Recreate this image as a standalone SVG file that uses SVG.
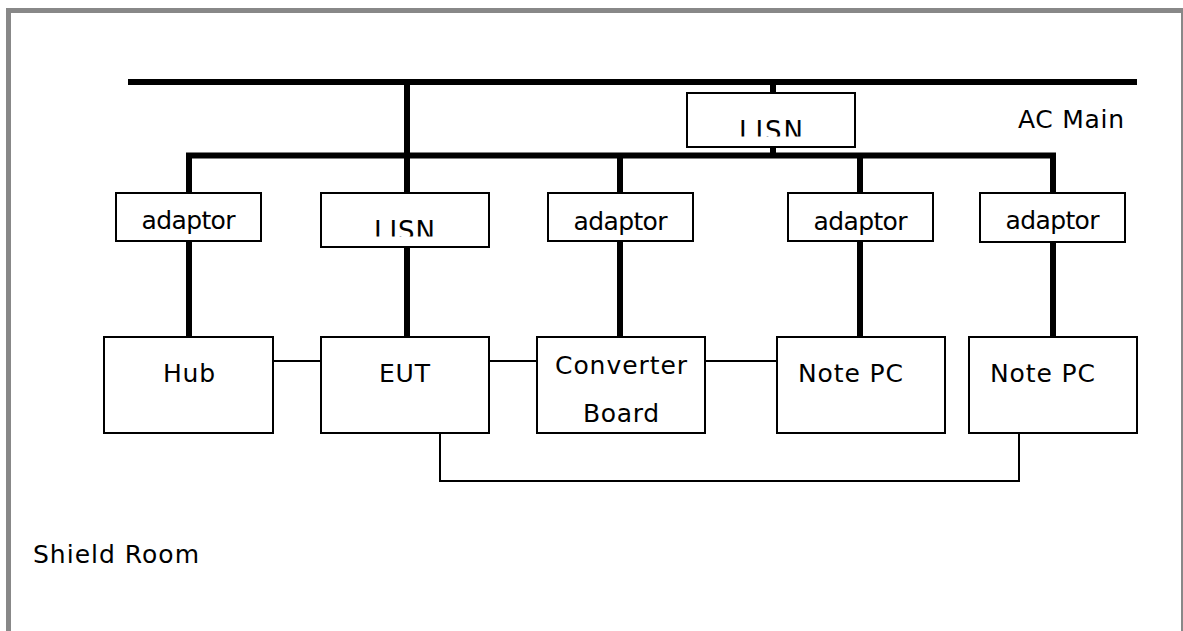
<svg xmlns="http://www.w3.org/2000/svg" width="1183" height="631" viewBox="0 0 1183 631">
  <style>
    .box { fill: #fff; stroke: #000; stroke-width: 2; }
    .lbl { font-family: "DejaVu Sans", "Liberation Sans", sans-serif; font-size: 25px; fill: #000; }
    .lisn { font-size: 26px; }
    .power { stroke: #000; stroke-width: 6; fill: none; stroke-linecap: butt; }
    .signal { stroke: #000; stroke-width: 2; fill: none; }
  </style>
  <defs>
    <clipPath id="clip-lisn-main"><rect x="687" y="93" width="168" height="43.5"/></clipPath>
    <clipPath id="clip-lisn-eut"><rect x="321" y="193" width="168" height="43.5"/></clipPath>
  </defs>

  <rect width="1183" height="631" fill="#fff"/>
  <!-- shield room enclosure -->
  <rect id="shield-room" x="8.5" y="10.5" width="1175" height="700" fill="none" stroke="#888" stroke-width="5"/>

  <g id="connectors">
    <!-- AC mains bus -->
    <line class="power" x1="128" y1="82" x2="1137" y2="82"/>
    <!-- mains to EUT LISN -->
    <line class="power" x1="407" y1="82" x2="407" y2="193"/>
    <!-- mains to support LISN -->
    <line class="power" x1="773" y1="82" x2="773" y2="93"/>
    <line class="power" x1="773" y1="147" x2="773" y2="156"/>
    <!-- support equipment power bus -->
    <polyline class="power" points="189,193 189,155.5 1053,155.5 1053,193"/>
    <line class="power" x1="620" y1="155" x2="620" y2="193"/>
    <line class="power" x1="860" y1="155" x2="860" y2="193"/>
    <!-- adaptor / LISN to equipment -->
    <line class="power" x1="189" y1="241" x2="189" y2="337"/>
    <line class="power" x1="407" y1="247" x2="407" y2="337"/>
    <line class="power" x1="620" y1="241" x2="620" y2="337"/>
    <line class="power" x1="860" y1="241" x2="860" y2="337"/>
    <line class="power" x1="1053" y1="242" x2="1053" y2="337"/>
    <!-- signal cables -->
    <line class="signal" x1="273" y1="361" x2="321" y2="361"/>
    <line class="signal" x1="489" y1="361" x2="537" y2="361"/>
    <line class="signal" x1="705" y1="361" x2="777" y2="361"/>
    <polyline class="signal" points="440,433 440,481 1019,481 1019,433"/>
  </g>

  <g id="lisn-main">
    <rect class="box" x="687" y="93" width="168" height="54"/>
    <text class="lbl lisn" x="739" y="139.5" textLength="64" clip-path="url(#clip-lisn-main)">LISN</text>
  </g>
  <text id="ac-main" class="lbl" x="1018" y="128" textLength="106">AC Main</text>

  <g id="adaptor-hub">
    <rect class="box" x="116" y="193" width="145" height="48"/>
    <text class="lbl" x="188.5" y="229" text-anchor="middle" textLength="94">adaptor</text>
  </g>
  <g id="lisn-eut">
    <rect class="box" x="321" y="193" width="168" height="54"/>
    <text class="lbl lisn" x="374" y="239.5" textLength="61" clip-path="url(#clip-lisn-eut)">LISN</text>
  </g>
  <g id="adaptor-converter">
    <rect class="box" x="548" y="193" width="145" height="48"/>
    <text class="lbl" x="620.5" y="230" text-anchor="middle" textLength="94">adaptor</text>
  </g>
  <g id="adaptor-notepc1">
    <rect class="box" x="788" y="193" width="145" height="48"/>
    <text class="lbl" x="860.5" y="230" text-anchor="middle" textLength="94">adaptor</text>
  </g>
  <g id="adaptor-notepc2">
    <rect class="box" x="980" y="193" width="145" height="49"/>
    <text class="lbl" x="1052.5" y="229" text-anchor="middle" textLength="94">adaptor</text>
  </g>

  <g id="hub">
    <rect class="box" x="104" y="337" width="169" height="96"/>
    <text class="lbl" x="163" y="382" textLength="52">Hub</text>
  </g>
  <g id="eut">
    <rect class="box" x="321" y="337" width="168" height="96"/>
    <text class="lbl" x="379" y="382" textLength="51">EUT</text>
  </g>
  <g id="converter-board">
    <rect class="box" x="537" y="337" width="168" height="96"/>
    <text class="lbl" x="555" y="374" textLength="132">Converter</text>
    <text class="lbl" x="583" y="422" textLength="76">Board</text>
  </g>
  <g id="note-pc1">
    <rect class="box" x="777" y="337" width="168" height="96"/>
    <text class="lbl" x="798" y="382" textLength="105">Note PC</text>
  </g>
  <g id="note-pc2">
    <rect class="box" x="969" y="337" width="168" height="96"/>
    <text class="lbl" x="990" y="382" textLength="105">Note PC</text>
  </g>

  <text id="shield-room-label" class="lbl" x="33" y="563" textLength="166">Shield Room</text>
</svg>
